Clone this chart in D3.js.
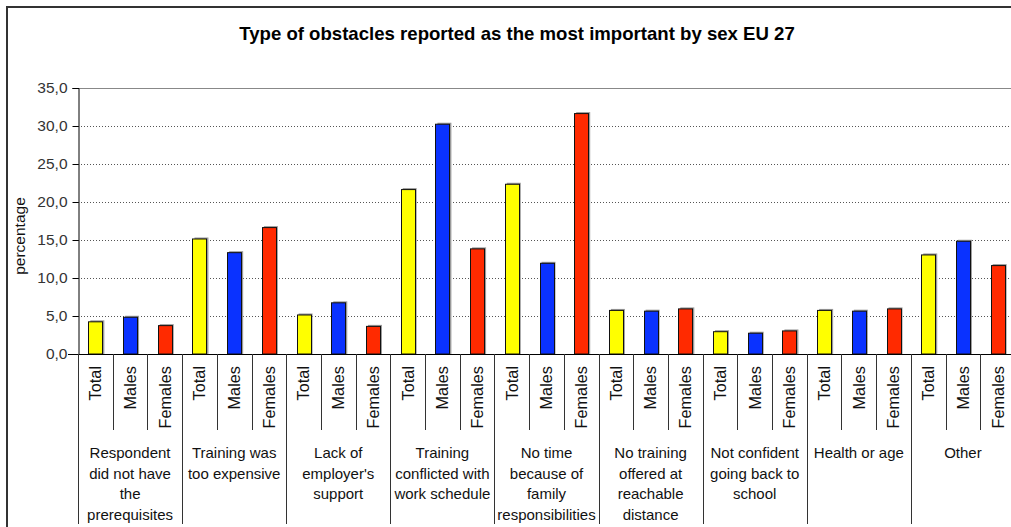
<!DOCTYPE html>
<html>
<head>
<meta charset="utf-8">
<script src="https://cdn.jsdelivr.net/npm/d3@7"></script>
<style>
  html, body { margin: 0; padding: 0; background: #fff; overflow: hidden; }
  svg { display: block; font-family: "Liberation Sans", Arial, sans-serif; }
</style>
</head>
<body>
<svg id="chart" width="1011" height="527"></svg>
<script>
// Obstacle categories (each line is one label row)
const groups = [
  ["Respondent", "did not have", "the", "prerequisites"],
  ["Training was", "too expensive"],
  ["Lack of", "employer's", "support"],
  ["Training", "conflicted with", "work schedule"],
  ["No time", "because of", "family", "responsibilities"],
  ["No training", "offered at", "reachable", "distance"],
  ["Not confident", "going back to", "school"],
  ["Health or age"],
  ["Other"]
];
const sexes = ["Total", "Males", "Females"];

// Percentages per category
const totalValues   = [4.3, 15.2, 5.2, 21.7, 22.4, 5.8, 3.0, 5.8, 13.1];
const malesValues   = [4.9, 13.4, 6.8, 30.3, 12.0, 5.7, 2.8, 5.7, 14.9];
const femalesValues = [3.8, 16.7, 3.7, 13.9, 31.7, 6.0, 3.1, 6.0, 11.7];

const yTicks = [0, 5, 10, 15, 20, 25, 30, 35];
const colors = { Total: "#FFFF00", Males: "#0A32FF", Females: "#FF2A00" };

const seriesValues = { Total: totalValues, Males: malesValues, Females: femalesValues };
const rows = [];
groups.forEach((g, gi) => {
  sexes.forEach(s => rows.push({ key: gi + "-" + s, group: gi, sex: s, value: seriesValues[s][gi] }));
});

const svg = d3.select("#chart");
const W = 1011, H = 527;
const plot = { left: 78, right: 1015, top: 88, bottom: 354 };

svg.append("rect").attr("width", W).attr("height", H).attr("fill", "#fff");

// outer frame
svg.append("rect")
  .attr("x", 7).attr("y", 7)
  .attr("width", W + 20).attr("height", H + 20)
  .attr("fill", "none").attr("stroke", "#333").attr("stroke-width", 2);

// title
svg.append("text")
  .attr("x", 517).attr("y", 40)
  .attr("text-anchor", "middle")
  .attr("font-size", 18.6).attr("font-weight", "bold").attr("fill", "#000")
  .text("Type of obstacles reported as the most important by sex EU 27");

const y = d3.scaleLinear().domain([0, 35]).range([plot.bottom, plot.top]);
const x = d3.scaleBand().domain(rows.map(d => d.key)).range([plot.left, plot.right]).padding(0);
const gx = d3.scaleBand().domain(groups.map((g, i) => i)).range([plot.left, plot.right]).padding(0);

// gridlines
svg.append("g").selectAll("line")
  .data(yTicks.filter(t => t > 0 && t < 35))
  .join("line")
  .attr("x1", plot.left).attr("x2", plot.right)
  .attr("y1", d => Math.round(y(d)) + 0.5).attr("y2", d => Math.round(y(d)) + 0.5)
  .attr("stroke", "#555").attr("stroke-width", 1).attr("stroke-dasharray", "1,2");

// top border of plot area
svg.append("line")
  .attr("x1", plot.left).attr("x2", plot.right)
  .attr("y1", Math.round(y(35)) + 0.5).attr("y2", Math.round(y(35)) + 0.5)
  .attr("stroke", "#888").attr("stroke-width", 1);

// y axis
const yAxis = d3.axisLeft(y).tickValues(yTicks).tickSize(6).tickPadding(5)
  .tickFormat(d => d3.format(".1f")(d).replace(".", ","));
const yg = svg.append("g").attr("transform", `translate(${plot.left + 0.5},0)`).call(yAxis);
yg.select(".domain").attr("stroke", "#000");
yg.selectAll(".tick line").attr("stroke", "#000");
yg.selectAll(".tick text")
  .attr("font-size", 15.5).attr("fill", "#333")
  .attr("font-family", "'Liberation Sans', Arial, sans-serif");

svg.append("text")
  .attr("transform", `translate(25,236) rotate(-90)`)
  .attr("text-anchor", "middle")
  .attr("font-size", 15.5).attr("fill", "#111")
  .text("percentage");

// bars
const barW = 14;
const bars = svg.append("g");
bars.selectAll("rect.shadow")
  .data(rows).join("rect").attr("class", "shadow")
  .attr("x", d => x(d.key) + (x.bandwidth() - barW) / 2 + 2)
  .attr("y", d => y(d.value) - 1)
  .attr("width", barW).attr("height", d => y(0) - y(d.value) + 1)
  .attr("fill", "#9a9a9a");
bars.selectAll("rect.bar")
  .data(rows).join("rect").attr("class", "bar")
  .attr("x", d => Math.round(x(d.key) + (x.bandwidth() - barW) / 2) + 0.5)
  .attr("y", d => y(d.value) + 0.5)
  .attr("width", barW).attr("height", d => y(0) - y(d.value) - 0.5)
  .attr("fill", d => colors[d.sex])
  .attr("stroke", "#111").attr("stroke-width", 1);

// x axis baseline
svg.append("line")
  .attr("x1", plot.left - 10).attr("x2", plot.right)
  .attr("y1", plot.bottom + 0.5).attr("y2", plot.bottom + 0.5)
  .attr("stroke", "#000").attr("stroke-width", 1);

// separators between bars within a group
svg.append("g").selectAll("line")
  .data(rows.filter(d => d.sex !== "Total"))
  .join("line")
  .attr("x1", d => Math.round(x(d.key)) + 0.5).attr("x2", d => Math.round(x(d.key)) + 0.5)
  .attr("y1", plot.bottom).attr("y2", 430)
  .attr("stroke", "#333");

// separators between groups
svg.append("g").selectAll("line")
  .data(groups.map((g, i) => i).concat([groups.length]))
  .join("line")
  .attr("x1", d => Math.round(d < groups.length ? gx(d) : plot.right) + 0.5)
  .attr("x2", d => Math.round(d < groups.length ? gx(d) : plot.right) + 0.5)
  .attr("y1", plot.bottom).attr("y2", 524)
  .attr("stroke", "#333");

// series labels under bars
svg.append("g").selectAll("text")
  .data(rows).join("text")
  .attr("transform", d => `translate(${x(d.key) + x.bandwidth() / 2},366) rotate(-90)`)
  .attr("text-anchor", "end")
  .attr("dy", "0.36em")
  .attr("font-size", 16.3).attr("fill", "#111")
  .text(d => d.sex);

// category labels
const gl = svg.append("g").selectAll("text")
  .data(groups).join("text")
  .attr("text-anchor", "middle")
  .attr("font-size", 15).attr("fill", "#111");
gl.selectAll("tspan")
  .data((g, i) => g.map((line, li) => ({ line, li, gi: i })))
  .join("tspan")
  .attr("x", d => gx(d.gi) + gx.bandwidth() / 2)
  .attr("y", d => 458 + d.li * 20.5)
  .text(d => d.line);
</script>
</body>
</html>
